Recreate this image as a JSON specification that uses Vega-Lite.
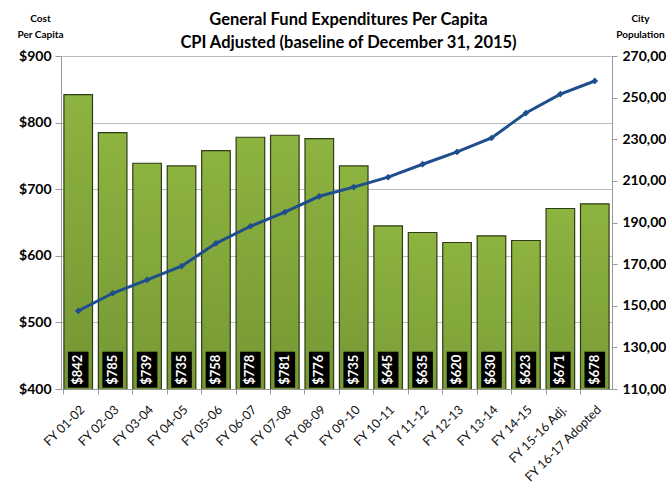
{
  "$schema": "https://vega.github.io/schema/vega-lite/v6.json",
  "width": 551,
  "height": 333,
  "autosize": {"type": "none"},
  "padding": {"left": 61, "top": 56, "right": 54, "bottom": 111},
  "background": "white",
  "config": {"font": "Lato", "view": {"stroke": null}},
  "title": {
    "text": ["General Fund Expenditures Per Capita", "CPI Adjusted (baseline of December 31, 2015)"],
    "fontSize": 16.5,
    "fontWeight": "bold",
    "color": "#000000",
    "anchor": "middle",
    "offset": 10,
    "lineHeight": 23,
    "dx": 12,
    "dy": 48
  },
  "data": {
    "values": [
      {"fy": "FY 01-02", "cost": 842, "pop": 147500},
      {"fy": "FY 02-03", "cost": 785, "pop": 156000},
      {"fy": "FY 03-04", "cost": 739, "pop": 162400},
      {"fy": "FY 04-05", "cost": 735, "pop": 169000},
      {"fy": "FY 05-06", "cost": 758, "pop": 180000},
      {"fy": "FY 06-07", "cost": 778, "pop": 188200},
      {"fy": "FY 07-08", "cost": 781, "pop": 195000},
      {"fy": "FY 08-09", "cost": 776, "pop": 202600},
      {"fy": "FY 09-10", "cost": 735, "pop": 207000},
      {"fy": "FY 10-11", "cost": 645, "pop": 211800},
      {"fy": "FY 11-12", "cost": 635, "pop": 218000},
      {"fy": "FY 12-13", "cost": 620, "pop": 223900},
      {"fy": "FY 13-14", "cost": 630, "pop": 230600},
      {"fy": "FY 14-15", "cost": 623, "pop": 242600},
      {"fy": "FY 15-16 Adj.", "cost": 671, "pop": 251700},
      {"fy": "FY 16-17 Adopted", "cost": 678, "pop": 258000}
    ]
  },
  "encoding": {
    "x": {
      "field": "fy",
      "type": "nominal",
      "sort": null,
      "scale": {"paddingInner": 0.17, "paddingOuter": 0.085},
      "axis": {
        "title": null,
        "labelAngle": -45,
        "labelFontSize": 12.5,
        "labelColor": "#111111",
        "labelPadding": 9,
        "bandPosition": 0,
        "tickSize": 5,
        "tickColor": "#999999",
        "domainColor": "#999999",
        "grid": false
      }
    }
  },
  "layer": [
    {
      "layer": [
        {
          "mark": {
            "type": "bar",
            "clip": true,
            "color": {
              "gradient": "linear",
              "x1": 0, "y1": 0, "x2": 0, "y2": 1,
              "stops": [
                {"offset": 0, "color": "#8db340"},
                {"offset": 1, "color": "#5c7b27"}
              ]
            },
            "stroke": "#2f3c16",
            "strokeWidth": 1.2
          },
          "encoding": {
            "y": {
              "field": "cost",
              "type": "quantitative",
              "scale": {"domain": [400, 900], "zero": false, "nice": false},
              "axis": {
                "title": ["Cost", "Per Capita"],
                "titleAngle": 0,
                "titleFontSize": 10,
                "titleFontWeight": "bold",
                "titleColor": "#000000",
                "titleAlign": "center",
                "titleBaseline": "top",
                "titleX": -21,
                "titleY": -43,
                "titleLineHeight": 16,
                "values": [400, 450, 500, 550, 600, 650, 700, 750, 800, 850, 900],
                "labelExpr": "datum.value % 100 === 0 ? '$' + datum.value : ''",
                "labelFontSize": 14,
                "labelFontWeight": "bold",
                "labelColor": "#000000",
                "labelPadding": 4,
                "tickSize": 6,
                "tickColor": "#999999",
                "domainColor": "#999999",
                "grid": true,
                "gridColor": "#bbbbbb",
                "gridOpacity": {"condition": {"test": "datum.value % 100 === 0 && datum.value > 400", "value": 1}, "value": 0}
              }
            }
          }
        },
        {
          "mark": {"type": "bar", "color": "#000000", "width": {"band": 0.72}},
          "encoding": {"y": {"datum": 402}, "y2": {"datum": 456}}
        },
        {
          "mark": {"type": "text", "angle": 270, "color": "#ffffff", "fontWeight": "bold", "fontSize": 13},
          "encoding": {
            "y": {"datum": 429},
            "text": {"field": "cost", "type": "quantitative", "format": "$,.0f"}
          }
        }
      ]
    },
    {
      "mark": {
        "type": "line",
        "color": "#1f4e8c",
        "strokeWidth": 3,
        "point": {"shape": "diamond", "size": 45, "filled": true, "color": "#1f4e8c"}
      },
      "encoding": {
        "y": {
          "field": "pop",
          "type": "quantitative",
          "scale": {"domain": [110000, 270000], "zero": false, "nice": false},
          "axis": {
            "orient": "right",
            "title": ["City", "Population"],
            "titleAngle": 0,
            "titleFontSize": 10,
            "titleFontWeight": "bold",
            "titleColor": "#000000",
            "titleAlign": "center",
            "titleBaseline": "top",
            "titleX": 28,
            "titleY": -43,
            "titleLineHeight": 16,
            "values": [110000, 130000, 150000, 170000, 190000, 210000, 230000, 250000, 270000],
            "format": ",d",
            "labelFontSize": 14,
            "labelFontWeight": "bold",
            "labelColor": "#000000",
            "labelPadding": 5,
            "tickSize": 5,
            "tickColor": "#999999",
            "domainColor": "#999999",
            "grid": false
          }
        }
      }
    }
  ],
  "resolve": {"scale": {"y": "independent"}}
}
